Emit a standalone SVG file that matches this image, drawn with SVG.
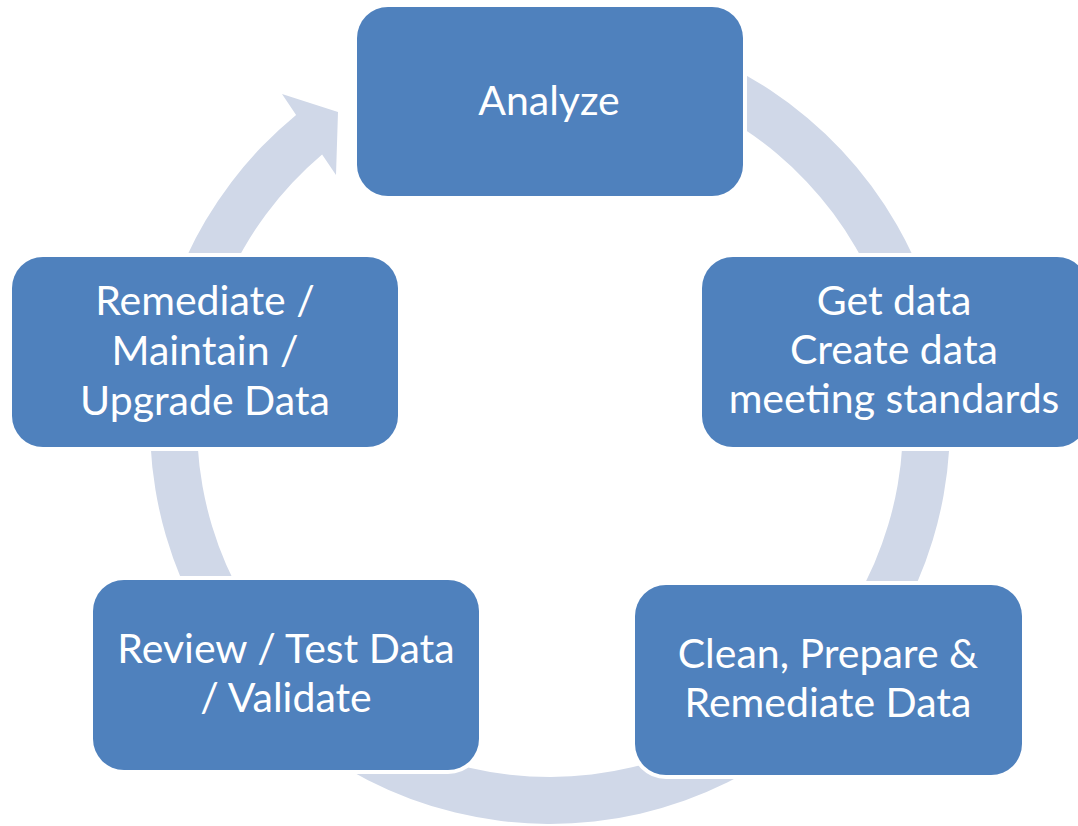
<svg xmlns="http://www.w3.org/2000/svg" width="1078" height="826" viewBox="0 0 1078 826">
  <style>
    .box { fill: #4F81BD; stroke: #FFFFFF; stroke-width: 8; paint-order: stroke; }
    .lbl { font-family: Lato, "Liberation Sans", sans-serif; font-size: 41px; fill: #FFFFFF; text-anchor: middle; }
    .ring { fill: #D0D8E8; }
  </style>
  <rect width="1078" height="826" fill="#FFFFFF"/>

  <!-- circular flow arrow behind the steps -->
  <g id="connectors">
    <path class="ring" d="M 550 24 A 400 400 0 1 1 296.1 114.9 L 282 94 L 338 112 L 336 175 L 322.1 154.4 A 353 353 0 1 0 550 71 Z"/>
  </g>

  <g id="analyze">
    <rect class="box" x="357" y="7" width="386" height="189" rx="31" ry="31"/>
    <text class="lbl" x="549" y="115">Analyze</text>
  </g>

  <g id="get-data">
    <rect class="box" x="702" y="257" width="386" height="190" rx="31" ry="31"/>
    <text class="lbl" x="894" y="315">Get data</text>
    <text class="lbl" x="894" y="364">Create data</text>
    <text class="lbl" x="894" y="413">meeting standards</text>
  </g>

  <g id="clean-prepare">
    <rect class="box" x="635" y="585" width="387" height="190" rx="31" ry="31"/>
    <text class="lbl" x="828" y="668">Clean, Prepare &amp;</text>
    <text class="lbl" x="828" y="717">Remediate Data</text>
  </g>

  <g id="review-test">
    <rect class="box" x="93" y="580" width="386" height="190" rx="31" ry="31"/>
    <text class="lbl" x="286" y="663">Review / Test Data</text>
    <text class="lbl" x="286" y="712">/ Validate</text>
  </g>

  <g id="remediate-maintain">
    <rect class="box" x="12" y="257" width="386" height="190" rx="31" ry="31"/>
    <text class="lbl" x="205" y="315">Remediate /</text>
    <text class="lbl" x="205" y="365">Maintain /</text>
    <text class="lbl" x="205" y="415">Upgrade Data</text>
  </g>
</svg>
